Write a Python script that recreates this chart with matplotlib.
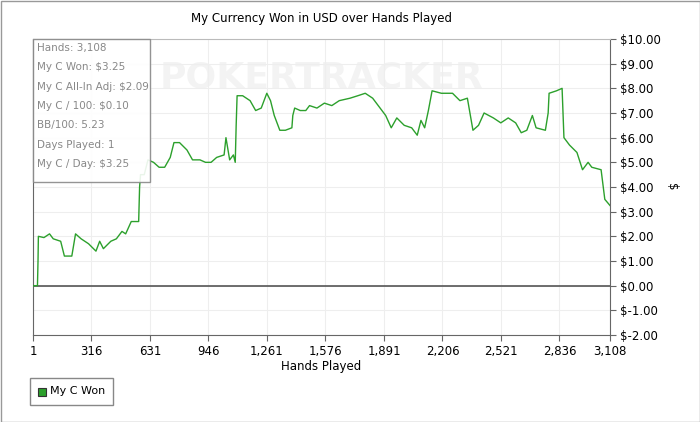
import matplotlib
matplotlib.use("Agg")
import matplotlib.pyplot as plt
from matplotlib.patches import Rectangle
from matplotlib.ticker import FuncFormatter

hands = [1,25,28,30,60,90,110,150,170,210,230,260,300,340,360,380,420,450,480,500,530,570,575,580,600,620,650,680,710,740,760,790,830,860,900,930,960,990,1030,1040,1060,1080,1090,1095,1100,1130,1170,1200,1230,1260,1280,1300,1330,1360,1395,1400,1410,1440,1470,1490,1530,1570,1610,1650,1708,1750,1790,1830,1870,1900,1930,1960,2000,2040,2070,2090,2110,2130,2150,2200,2260,2300,2340,2370,2400,2430,2480,2520,2560,2600,2630,2660,2690,2710,2760,2775,2780,2820,2850,2860,2890,2930,2960,2990,3010,3060,3080,3108]
won = [0,0,1.0,2.0,1.95,2.1,1.9,1.8,1.2,1.2,2.1,1.9,1.7,1.4,1.8,1.5,1.8,1.9,2.2,2.1,2.6,2.6,4.0,4.5,4.5,5.1,5.0,4.8,4.8,5.2,5.8,5.8,5.5,5.1,5.1,5.0,5.0,5.2,5.3,6.0,5.1,5.3,5.0,6.5,7.7,7.7,7.5,7.1,7.2,7.8,7.5,6.9,6.3,6.3,6.4,6.9,7.2,7.1,7.1,7.3,7.2,7.4,7.3,7.5,7.6,7.7,7.8,7.6,7.2,6.9,6.4,6.8,6.5,6.4,6.1,6.7,6.4,7.1,7.9,7.8,7.8,7.5,7.6,6.3,6.5,7.0,6.8,6.6,6.8,6.6,6.2,6.3,6.9,6.4,6.3,7.0,7.8,7.9,8.0,6.0,5.7,5.4,4.7,5.0,4.8,4.7,3.5,3.25]
xticks = [1,316,631,946,1261,1576,1891,2206,2521,2836,3108]
stats = ["Hands: 3,108","My C Won: $3.25","My C All-In Adj: $2.09","My C / 100: $0.10","BB/100: 5.23","Days Played: 1","My C / Day: $3.25"]

W, H = 700, 422
fig = plt.figure(figsize=(W/100, H/100), dpi=100)
fig.patches.append(Rectangle((0.5/W, 0.5/H), 1-1/W, 1-1/H, transform=fig.transFigure, fill=False, ec="#999999", lw=1))
ax = fig.add_axes([33/W, 1-335/H, (610-33)/W, (335-39)/H])
ax.plot(hands, won, color="#2ca02c", lw=1, zorder=3)
ax.set_xlim(1, 3108); ax.set_ylim(-2, 10)
ax.set_xticks(xticks); ax.set_xticklabels([f"{t:,}" for t in xticks], fontsize=8.5)
ax.set_yticks(range(-2, 11))
ax.yaxis.tick_right(); ax.yaxis.set_label_position("right")
ax.yaxis.set_major_formatter(FuncFormatter(lambda v, p: f"${v:.2f}" if v >= 0 else f"$-{abs(v):.2f}"))
ax.tick_params(labelsize=8.5, length=4, color="#666666")
ax.grid(True, color="#eeeeee", lw=0.8)
ax.axhline(0, color="#555555", lw=1.2, zorder=2)
ax.spines["top"].set_color("#bbbbbb")
for s in ["left","right","bottom"]: ax.spines[s].set_color("#666666")
ax.set_xlabel("Hands Played", fontsize=8.5, labelpad=1)
ax.set_ylabel("$", fontsize=8.5, rotation=270, labelpad=12)
ax.set_title("My Currency Won in USD over Hands Played", fontsize=8.5, pad=12)
ax.text(0.5, 0.87, "POKERTRACKER", transform=ax.transAxes, ha="center", va="center", fontsize=26, color="#f3f3f3", fontweight="bold", zorder=1)
fig.patches.append(Rectangle((33/W, 1-182/H), (150-33)/W, (182-39)/H, transform=fig.transFigure, fc="white", ec="#888888", lw=1, alpha=0.9, zorder=5))
for i, s in enumerate(stats):
    fig.text(37/W, 1-(48+i*19.3)/H, s, fontsize=7.5, color="#888888", va="center", zorder=6)
fig.patches.append(Rectangle((30/W, 1-405/H), (113-30)/W, (405-378)/H, transform=fig.transFigure, fc="white", ec="#888888", lw=1))
fig.patches.append(Rectangle((38/W, 1-396/H), 8/W, 8/H, transform=fig.transFigure, fc="#2ca02c", ec="#333333", lw=0.8))
fig.text(50/W, 1-391.5/H, "My C Won", fontsize=8, va="center")
fig.savefig("out.png", dpi=100)
